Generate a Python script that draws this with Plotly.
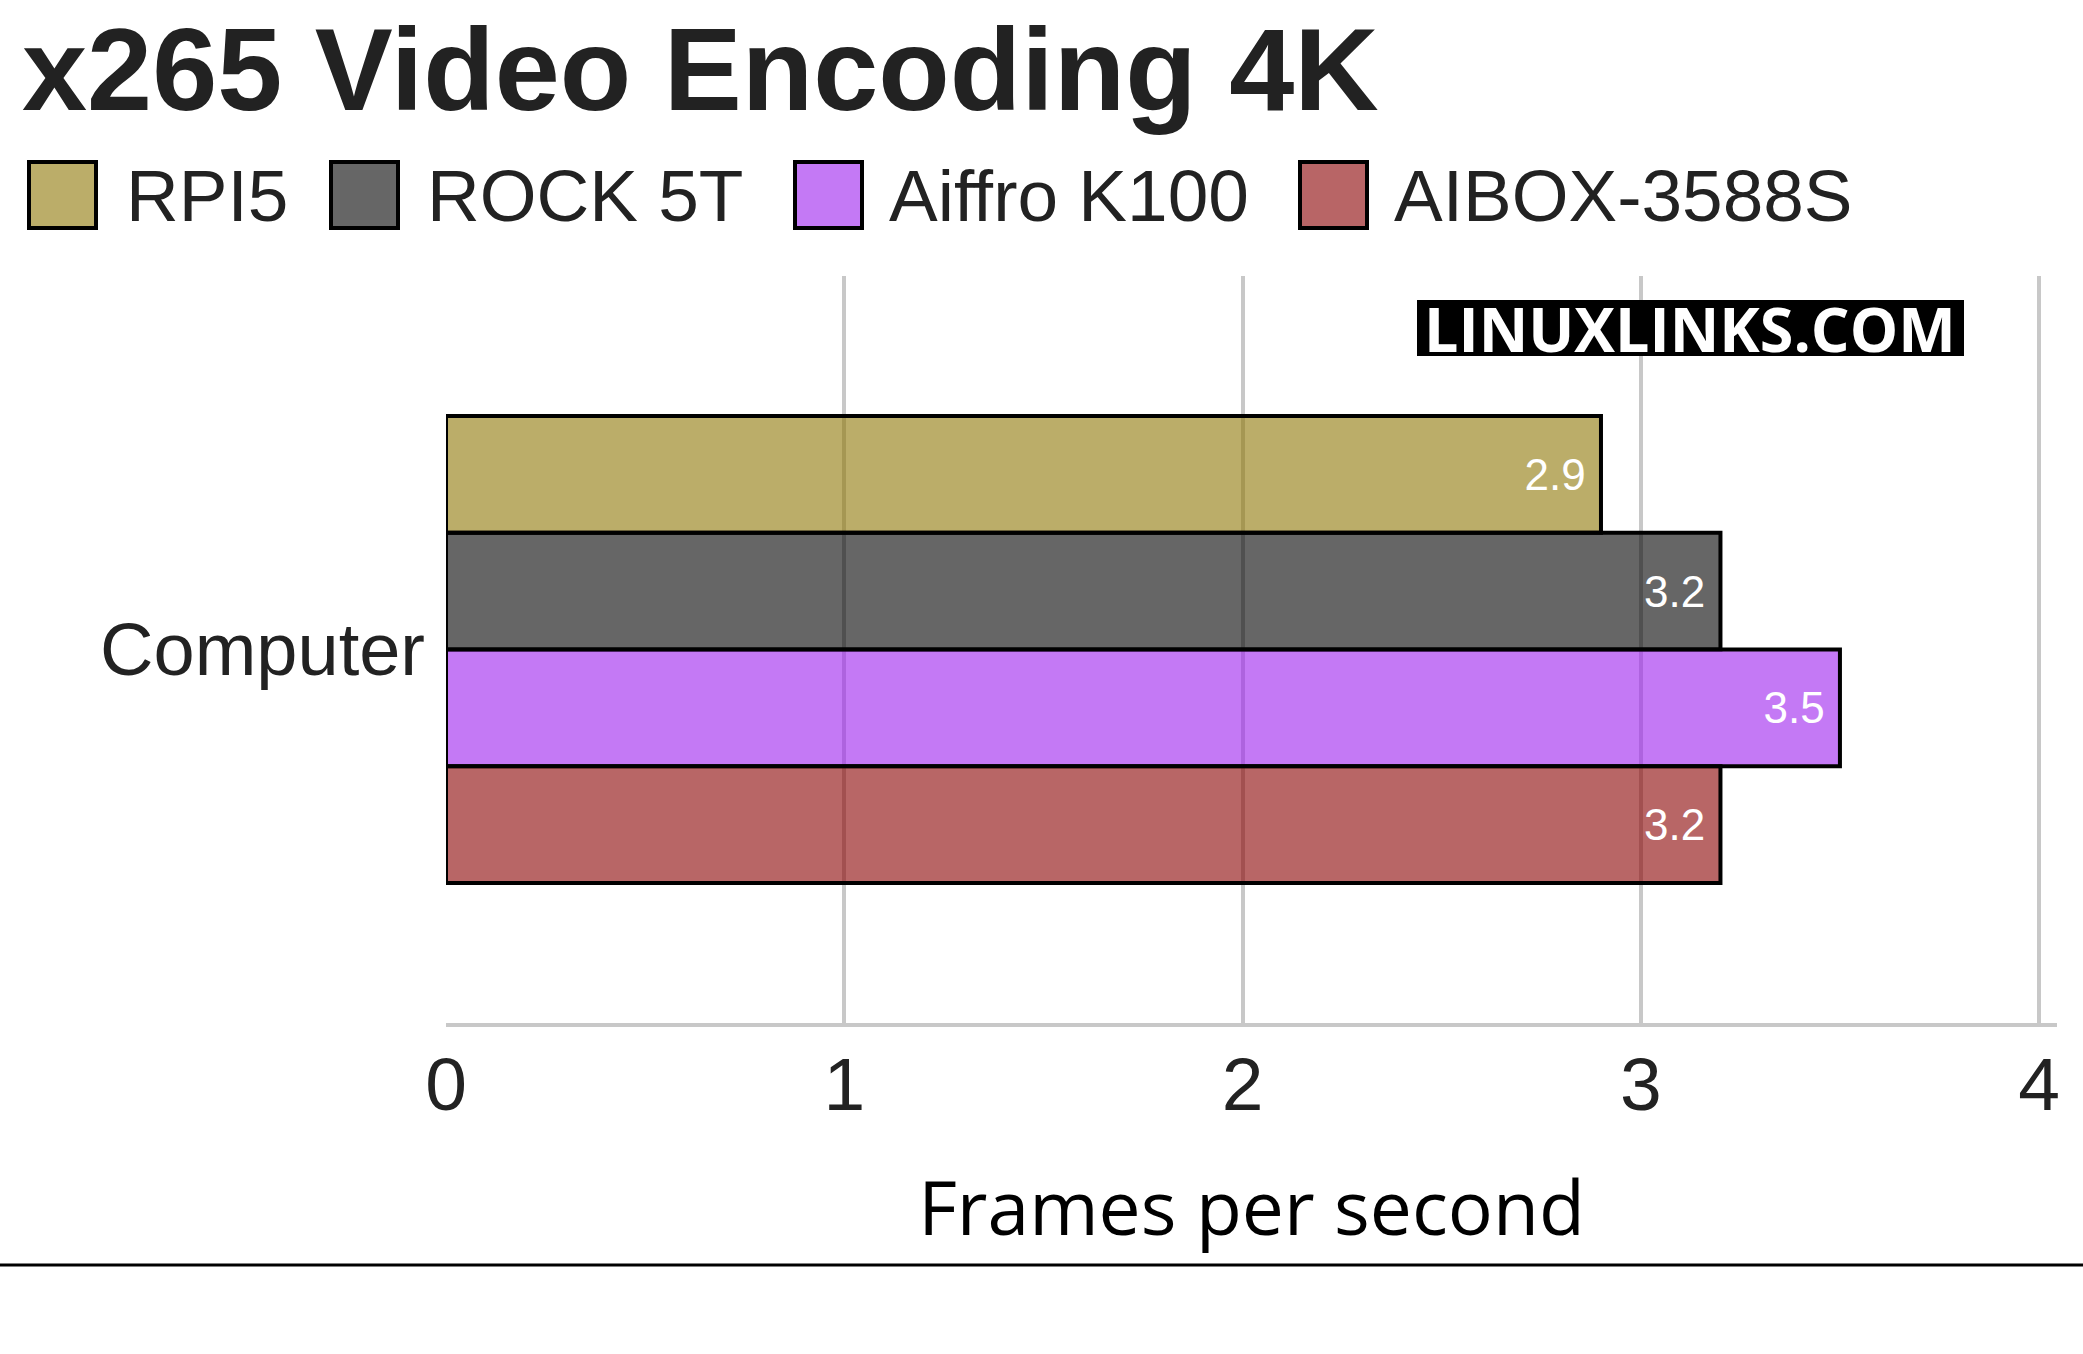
import plotly.graph_objects as go

# data
categories = ["Computer"]
systems = ["RPI5", "ROCK 5T", "Aiffro K100", "AIBOX-3588S"]
fps = [[2.9], [3.2], [3.5], [3.2]]
x_ticks = [0, 1, 2, 3, 4]

# styles (fill is semi transparent so the grid shows through)
fills = ["rgba(142,118,5,0.6)", "rgba(0,0,0,0.6)",
         "rgba(157,32,238,0.6)", "rgba(137,0,0,0.6)"]
swatch = ["#BBAD69", "#666666", "#C479F5", "#B86566"]
legend_box_x = [29, 331, 795, 1300]
legend_text_x = [124, 425, 887, 1392]

W, H = 2083, 1354
L, R, T, B = 446, 26, 276, 331


def px_x(p):
    return (p - L) / (W - L - R)


def px_y(p):
    return (H - B - p) / (H - T - B)


fig = go.Figure()
for name, vals, col in zip(systems, fps, fills):
    fig.add_trace(go.Bar(
        y=categories,
        x=vals,
        name=name,
        orientation="h",
        marker=dict(color=col, line=dict(color="black", width=4)),
        text=[f"{v}\u00a0" for v in vals],
        textposition="inside",
        insidetextanchor="end",
        textfont=dict(family="Liberation Sans", size=44, color="white"),
        showlegend=False,
    ))

shapes = []
annotations = []

# hand made legend with big swatches
for i, name in enumerate(systems):
    shapes.append(dict(
        type="rect", xref="paper", yref="paper",
        x0=px_x(legend_box_x[i]), x1=px_x(legend_box_x[i] + 67),
        y0=px_y(162), y1=px_y(228),
        fillcolor=swatch[i], line=dict(color="black", width=4),
    ))
    annotations.append(dict(
        text=name, xref="paper", yref="paper",
        x=px_x(legend_text_x[i]), y=px_y(195),
        xanchor="left", yanchor="middle", showarrow=False,
        font=dict(family="Liberation Sans", size=73, color="#222222"),
    ))

# watermark
shapes.append(dict(
    type="rect", xref="paper", yref="paper",
    x0=px_x(1417), x1=px_x(1964), y0=px_y(300), y1=px_y(356),
    fillcolor="black", line=dict(width=0), layer="above",
))
annotations.append(dict(
    text="<b>LINUXLINKS.COM</b>", xref="paper", yref="paper",
    x=px_x(1690), y=px_y(328), xanchor="center", yanchor="middle",
    showarrow=False,
    font=dict(family="Open Sans", size=61, color="white"),
))

# bottom rule
shapes.append(dict(
    type="line", xref="paper", yref="paper",
    x0=px_x(0), x1=px_x(W), y0=px_y(1265), y1=px_y(1265),
    line=dict(color="black", width=3),
))

fig.update_layout(
    width=W,
    height=H,
    margin=dict(l=L, r=R, t=T, b=B),
    paper_bgcolor="white",
    plot_bgcolor="white",
    barmode="group",
    bargap=0.375,
    bargroupgap=0,
    title=dict(
        text="<b>x265 Video Encoding 4K</b>",
        x=22 / W, xanchor="left", xref="container",
        y=1 - 69 / H, yanchor="middle", yref="container",
        font=dict(family="Liberation Sans", size=117, color="#222222"),
    ),
    xaxis=dict(
        range=[0, 4.045],
        tickvals=x_ticks,
        showgrid=True,
        gridcolor="#c8c8c8",
        gridwidth=4,
        zeroline=False,
        showline=True,
        linecolor="#c8c8c8",
        linewidth=4,
        ticks="",
        ticklen=0,
        ticklabelstandoff=-7,
        tickfont=dict(family="Liberation Sans", size=75, color="#222222"),
        title=dict(
            text="Frames per second",
            font=dict(family="Open Sans", size=75, color="black"),
            standoff=58,
        ),
    ),
    yaxis=dict(
        autorange="reversed",
        showgrid=False,
        ticks="",
        ticklabelstandoff=20,
        tickfont=dict(family="Liberation Sans", size=74, color="#222222"),
    ),
    shapes=shapes,
    annotations=annotations,
    showlegend=False,
)

fig.write_html(
    "out.html",
    config={"displayModeBar": False},
    post_script="document.body.style.margin='0';document.body.style.overflow='hidden';",
)
